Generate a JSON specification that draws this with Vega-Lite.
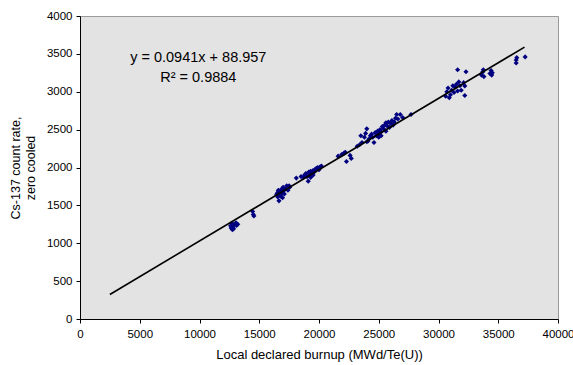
{
  "$schema": "https://vega.github.io/schema/vega-lite/v6.json",
  "autosize": "none",
  "width": 478,
  "height": 303,
  "padding": {"left": 80, "top": 16, "right": 15, "bottom": 46},
  "background": "white",
  "config": {
    "view": {"fill": "#e3e3e3", "stroke": "#9a9a9a", "strokeWidth": 1},
    "font": "Liberation Sans",
    "axis": {
      "grid": false,
      "domainColor": "black",
      "domainWidth": 1,
      "tickColor": "black",
      "tickSize": 4,
      "labelColor": "black",
      "labelFont": "Liberation Sans",
      "labelFontSize": 11.5,
      "labelOverlap": false,
      "labelFlush": false,
      "titleFont": "Liberation Sans",
      "titleFontWeight": "normal",
      "titleColor": "black"
    }
  },
  "datasets": {
    "points": [
      {"burnup": 12600, "rate": 1230}, {"burnup": 12650, "rate": 1200}, {"burnup": 12700, "rate": 1260}, {"burnup": 12750, "rate": 1180},
      {"burnup": 12800, "rate": 1215}, {"burnup": 12900, "rate": 1250}, {"burnup": 13050, "rate": 1270}, {"burnup": 13100, "rate": 1235},
      {"burnup": 13200, "rate": 1250}, {"burnup": 12850, "rate": 1190},
      {"burnup": 14450, "rate": 1420}, {"burnup": 14500, "rate": 1380}, {"burnup": 14550, "rate": 1360},
      {"burnup": 16450, "rate": 1640}, {"burnup": 16500, "rate": 1660}, {"burnup": 16550, "rate": 1610}, {"burnup": 16600, "rate": 1690},
      {"burnup": 16650, "rate": 1560}, {"burnup": 16700, "rate": 1680}, {"burnup": 16750, "rate": 1640}, {"burnup": 16800, "rate": 1700},
      {"burnup": 16850, "rate": 1650}, {"burnup": 16900, "rate": 1720}, {"burnup": 16950, "rate": 1600}, {"burnup": 17000, "rate": 1680},
      {"burnup": 17050, "rate": 1700}, {"burnup": 17100, "rate": 1650}, {"burnup": 17200, "rate": 1720}, {"burnup": 17300, "rate": 1760},
      {"burnup": 17400, "rate": 1700}, {"burnup": 17500, "rate": 1760}, {"burnup": 17550, "rate": 1740}, {"burnup": 16600, "rate": 1700},
      {"burnup": 16800, "rate": 1620}, {"burnup": 17000, "rate": 1740},
      {"burnup": 18100, "rate": 1860}, {"burnup": 18500, "rate": 1880}, {"burnup": 18800, "rate": 1900}, {"burnup": 18900, "rate": 1920},
      {"burnup": 19000, "rate": 1880}, {"burnup": 19100, "rate": 1820}, {"burnup": 19150, "rate": 1940}, {"burnup": 19200, "rate": 1900},
      {"burnup": 19300, "rate": 1950}, {"burnup": 19400, "rate": 1920}, {"burnup": 19500, "rate": 1960}, {"burnup": 19600, "rate": 1940},
      {"burnup": 19700, "rate": 1980}, {"burnup": 19800, "rate": 1990}, {"burnup": 19900, "rate": 2000}, {"burnup": 20000, "rate": 1970},
      {"burnup": 20100, "rate": 2010}, {"burnup": 20200, "rate": 2020}, {"burnup": 19300, "rate": 1870}, {"burnup": 18700, "rate": 1870},
      {"burnup": 19500, "rate": 1900},
      {"burnup": 21600, "rate": 2150}, {"burnup": 21900, "rate": 2170}, {"burnup": 22100, "rate": 2190}, {"burnup": 22200, "rate": 2200},
      {"burnup": 22300, "rate": 2080}, {"burnup": 22600, "rate": 2160}, {"burnup": 22700, "rate": 2120},
      {"burnup": 23200, "rate": 2280}, {"burnup": 23400, "rate": 2300}, {"burnup": 23500, "rate": 2420}, {"burnup": 23600, "rate": 2330},
      {"burnup": 23800, "rate": 2400}, {"burnup": 24000, "rate": 2510}, {"burnup": 24100, "rate": 2350}, {"burnup": 24200, "rate": 2380},
      {"burnup": 24300, "rate": 2420}, {"burnup": 24400, "rate": 2440}, {"burnup": 24500, "rate": 2400}, {"burnup": 24600, "rate": 2330},
      {"burnup": 24700, "rate": 2460}, {"burnup": 24800, "rate": 2420}, {"burnup": 24900, "rate": 2480}, {"burnup": 25000, "rate": 2450},
      {"burnup": 25100, "rate": 2500}, {"burnup": 25200, "rate": 2470}, {"burnup": 25300, "rate": 2540}, {"burnup": 25400, "rate": 2510},
      {"burnup": 25500, "rate": 2560}, {"burnup": 25600, "rate": 2480}, {"burnup": 25700, "rate": 2550}, {"burnup": 25800, "rate": 2600},
      {"burnup": 25900, "rate": 2530}, {"burnup": 26000, "rate": 2580}, {"burnup": 26100, "rate": 2620}, {"burnup": 26200, "rate": 2560},
      {"burnup": 26300, "rate": 2600}, {"burnup": 26400, "rate": 2650}, {"burnup": 26600, "rate": 2640}, {"burnup": 26800, "rate": 2700},
      {"burnup": 27000, "rate": 2660}, {"burnup": 27700, "rate": 2700}, {"burnup": 24000, "rate": 2340}, {"burnup": 25200, "rate": 2420},
      {"burnup": 25600, "rate": 2590}, {"burnup": 25000, "rate": 2400}, {"burnup": 26500, "rate": 2700}, {"burnup": 23900, "rate": 2450},
      {"burnup": 30600, "rate": 2940}, {"burnup": 30700, "rate": 3000}, {"burnup": 30800, "rate": 3050}, {"burnup": 30900, "rate": 2920},
      {"burnup": 31000, "rate": 2960}, {"burnup": 31100, "rate": 3020}, {"burnup": 31200, "rate": 3080}, {"burnup": 31300, "rate": 2990},
      {"burnup": 31400, "rate": 3060}, {"burnup": 31500, "rate": 3100}, {"burnup": 31600, "rate": 3010}, {"burnup": 31700, "rate": 3130},
      {"burnup": 31800, "rate": 3080}, {"burnup": 31900, "rate": 3020}, {"burnup": 31600, "rate": 3290}, {"burnup": 32300, "rate": 3265},
      {"burnup": 32100, "rate": 3120}, {"burnup": 32200, "rate": 2950}, {"burnup": 32200, "rate": 3077},
      {"burnup": 33600, "rate": 3220}, {"burnup": 33700, "rate": 3260}, {"burnup": 33800, "rate": 3200}, {"burnup": 33750, "rate": 3290},
      {"burnup": 34300, "rate": 3240}, {"burnup": 34400, "rate": 3280}, {"burnup": 34500, "rate": 3250}, {"burnup": 34450, "rate": 3220},
      {"burnup": 36500, "rate": 3380}, {"burnup": 36500, "rate": 3420}, {"burnup": 36550, "rate": 3450}, {"burnup": 37250, "rate": 3460}
    ],
    "fit": [
      {"burnup": 2500, "rate": 324.2},
      {"burnup": 37200, "rate": 3589.5}
    ]
  },
  "layer": [
    {
      "encoding": {
        "x": {
          "field": "burnup", "type": "quantitative",
          "scale": {"domain": [0, 40000], "nice": false},
          "axis": {"values": [0, 5000, 10000, 15000, 20000, 25000, 30000, 35000, 40000], "format": "d", "title": "Local declared burnup (MWd/Te(U))", "titleFontSize": 13, "titlePadding": 9, "labelPadding": 5}
        },
        "y": {
          "field": "rate", "type": "quantitative",
          "scale": {"domain": [0, 4000], "nice": false},
          "axis": {"values": [0, 500, 1000, 1500, 2000, 2500, 3000, 3500, 4000], "tickCount": 9, "format": "d", "title": ["Cs-137 count rate,", "zero cooled"], "titleFontSize": 12.5, "titleLineHeight": 15, "titlePadding": 9, "labelPadding": 4}
        }
      },
      "layer": [
        {
          "data": {"name": "points"},
          "mark": {"type": "point", "shape": "diamond", "filled": true, "color": "#000080", "size": 26, "opacity": 1}
        },
        {
          "data": {"name": "fit"},
          "mark": {"type": "line", "color": "black", "strokeWidth": 1.6}
        }
      ]
    },
    {
      "data": {"values": [{"eq": "y = 0.0941x + 88.957"}]},
      "mark": {"type": "text", "fontSize": 14.5, "color": "black", "align": "center", "baseline": "middle"},
      "encoding": {
        "x": {"datum": 9900, "type": "quantitative"},
        "y": {"datum": 3440, "type": "quantitative"},
        "text": {"field": "eq"}
      }
    },
    {
      "data": {"values": [{"eq": "R² = 0.9884"}]},
      "mark": {"type": "text", "fontSize": 14.5, "color": "black", "align": "center", "baseline": "middle"},
      "encoding": {
        "x": {"datum": 9900, "type": "quantitative"},
        "y": {"datum": 3185, "type": "quantitative"},
        "text": {"field": "eq"}
      }
    }
  ]
}
